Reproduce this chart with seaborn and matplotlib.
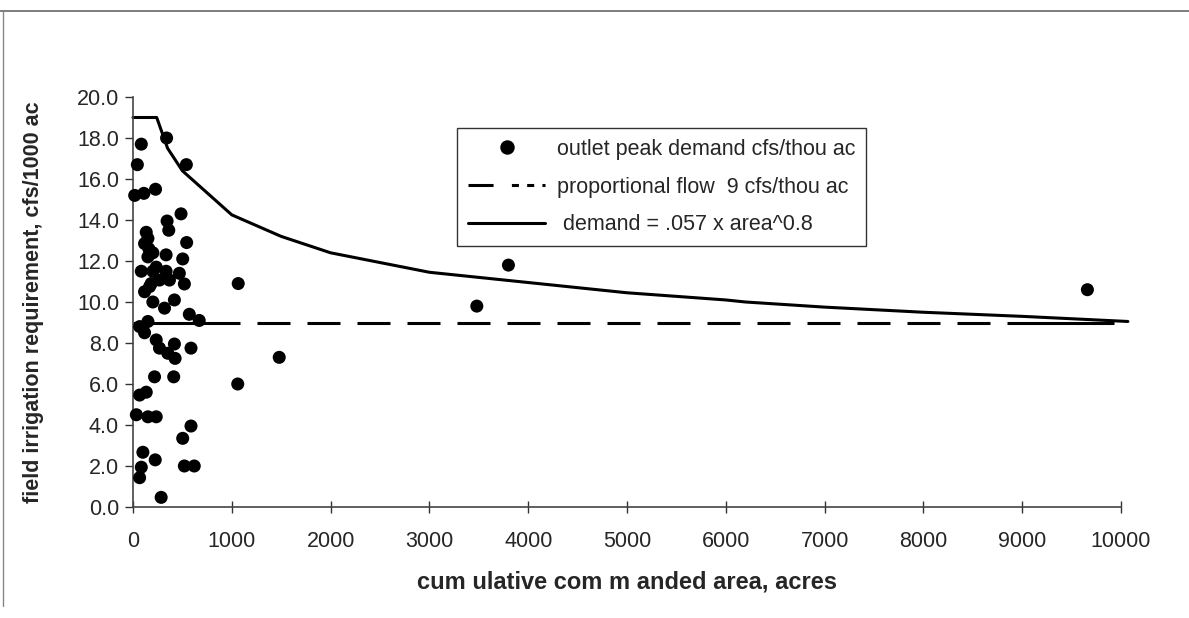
import matplotlib
matplotlib.use("Agg")
import matplotlib.pyplot as plt
from matplotlib.lines import Line2D
import seaborn as sns
import pandas as pd

# ---- data ----
area_acres = [84, 44, 340, 540, 17, 110, 228, 486, 345, 362, 543, 134, 151, 117,
              160, 335, 503, 151, 201, 84, 201, 335, 469, 268, 369, 520, 117, 184,
              235, 168, 1065, 201, 319, 419, 570, 670, 151, 67, 117, 235, 268, 419,
              587, 352, 426, 1480, 218, 412, 1060, 67, 134, 34, 151, 235, 587, 503,
              100, 225, 84, 67, 520, 620, 285, 3480, 3800, 9660]
peak_demand = [17.7, 16.7, 18.0, 16.7, 15.2, 15.3, 15.5, 14.3, 13.95, 13.5, 12.9, 13.4,
               13.1, 12.85, 12.6, 12.3, 12.1, 12.2, 12.4, 11.5, 11.5, 11.5, 11.4, 11.07,
               11.07, 10.88, 10.5, 10.9, 11.7, 10.75, 10.9, 10.0, 9.7, 10.1, 9.4, 9.1,
               9.05, 8.8, 8.5, 8.15, 7.75, 7.95, 7.75, 7.5, 7.25, 7.3, 6.35, 6.35, 6.0,
               5.46, 5.6, 4.5, 4.4, 4.4, 3.95, 3.35, 2.67, 2.3, 1.94, 1.43, 2.0, 2.0,
               0.47, 9.8, 11.8, 10.6]

prop_x = [0, 10070]
prop_y = [9.0, 9.0]

curve_x = [0, 240, 350, 500, 1000, 1500, 2000, 3000, 4000, 5000, 6000, 6200,
           7000, 8000, 9000, 10070]
curve_y = [19.0, 19.0, 17.5, 16.4, 14.25, 13.2, 12.4, 11.45, 10.95, 10.45, 10.1,
           10.0, 9.75, 9.5, 9.3, 9.05]

x_ticks = list(range(0, 10001, 1000))
y_ticks = [0, 2, 4, 6, 8, 10, 12, 14, 16, 18, 20]

label_scatter = "outlet peak demand cfs/thou ac"
label_prop = "proportional flow  9 cfs/thou ac"
label_curve = " demand = .057 x area^0.8"
xlabel = "cum ulative com m anded area, acres"
ylabel = "field irrigation requirement, cfs/1000 ac"

# ---- style ----
sns.set_theme(style="white")
plt.rcParams["font.family"] = ["Liberation Sans", "DejaVu Sans"]

W, H = 1189, 618
fig = plt.figure(figsize=(W / 100, H / 100), dpi=100)
ax = fig.add_axes([133 / W, 1 - 507 / H, (1121 - 133) / W, (507 - 97) / H])

df_pts = pd.DataFrame({"area": area_acres, "demand": peak_demand})
df_prop = pd.DataFrame({"area": prop_x, "demand": prop_y})
df_curve = pd.DataFrame({"area": curve_x, "demand": curve_y})

sns.lineplot(data=df_prop, x="area", y="demand", ax=ax, color="black",
             linewidth=2.2, sort=False, estimator=None)
prop_line = ax.lines[-1]
lw_px = 2.2 * 100 / 72
dash_seq = [107 / lw_px]
for _ in range(22):
    dash_seq += [17 / lw_px, 33 / lw_px]
prop_line.set_linestyle((0, tuple(dash_seq)))
prop_line.set_clip_on(False)

sns.lineplot(data=df_curve, x="area", y="demand", ax=ax, color="black",
             linewidth=2.2, sort=False, estimator=None)
ax.lines[-1].set_clip_on(False)

sns.scatterplot(data=df_pts, x="area", y="demand", ax=ax, color="black",
                s=88, edgecolor="none", zorder=5, clip_on=False)

ax.set_xlim(0, 10000)
ax.set_ylim(0, 20)
ax.set_xticks(x_ticks)
ax.set_xticklabels([str(v) for v in x_ticks])
ax.set_yticks(y_ticks)
ax.set_yticklabels([f"{v:.1f}" for v in y_ticks])

for side in ["top", "right"]:
    ax.spines[side].set_visible(False)
for side in ["left", "bottom"]:
    ax.spines[side].set_color("#444444")
    ax.spines[side].set_linewidth(1.2)

ax.tick_params(axis="x", direction="inout", length=9, width=1, color="#333333",
               labelsize=15.5, pad=13, bottom=True)
ax.tick_params(axis="y", direction="out", length=6, width=1, color="#333333",
               labelsize=15.5, pad=4, left=True)

ax.set_xlabel(xlabel, fontsize=17, fontweight="bold", labelpad=13)
ax.set_ylabel(ylabel, fontsize=15.5, fontweight="bold", labelpad=24)

# legend
h1 = Line2D([], [], ls="none", marker="o", ms=9.4, color="black")
h2 = Line2D([], [], color="black", lw=2.2,
            ls=(0, (8.2, 6.0, 2.3, 2.7, 2.3, 2.7, 2.3, 2.7)))
h3 = Line2D([], [], color="black", lw=2.2)
leg = fig.legend([h1, h2, h3], [label_scatter, label_prop, label_curve],
                 loc="upper left", bbox_to_anchor=(457 / W, 1 - 128 / H),
                 bbox_transform=fig.transFigure, fontsize=15.5, frameon=True,
                 fancybox=False, framealpha=1, edgecolor="#333333",
                 handlelength=3.6, handletextpad=0.55, labelspacing=0.78,
                 borderpad=0.5, borderaxespad=0)
leg.get_frame().set_linewidth(1.0)

# figure border lines (top and left)
fig.add_artist(Line2D([0, 1], [1 - 11 / H, 1 - 11 / H], transform=fig.transFigure,
                      color="#666666", lw=1.2))
fig.add_artist(Line2D([3 / W, 3 / W], [1 - 11 / H, 0.02], transform=fig.transFigure,
                      color="#888888", lw=1.0))

fig.savefig("out.png", dpi=100, facecolor="white")
